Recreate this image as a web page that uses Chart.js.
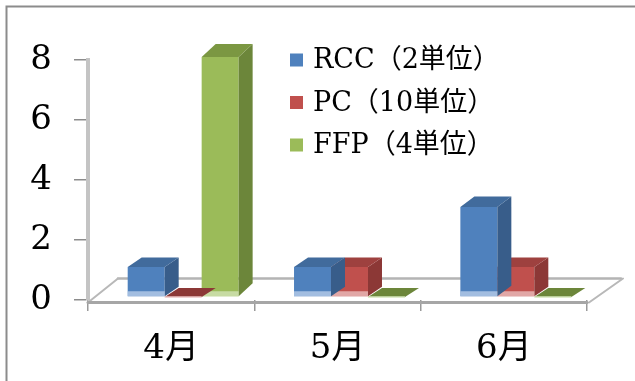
<!DOCTYPE html>
<html>
<head>
<meta charset="utf-8">
<script src="https://cdn.jsdelivr.net/npm/chart.js@4/dist/chart.umd.min.js"></script>
<style>
  html, body { margin: 0; padding: 0; background: #ffffff; }
  #wrap { width: 635px; height: 381px; position: relative; }
</style>
</head>
<body>
<div id="wrap"><canvas id="chart" width="635" height="381"></canvas></div>
<script>
// Monthly units issued per blood product
const months = ['4月', '5月', '6月'];
const seriesNames = ['RCC（2単位）', 'PC（10単位）', 'FFP（4単位）'];
const rccValues = [1, 1, 3];
const pcValues = [0, 1, 1];
const ffpValues = [8, 0, 0];
const yTickValues = [0, 2, 4, 6, 8];

const FONT = '"DejaVu Serif", "Noto Sans CJK JP", serif';

// face colours: front, side, top
const palette = [
  { front: '#4F81BD', side: '#385D8A', top: '#416B9C', glow: 'rgba(190,210,236,0.75)' },
  { front: '#C0504D', side: '#8C3836', top: '#9E413F', glow: 'rgba(236,196,196,0.75)' },
  { front: '#9BBB59', side: '#6C863A', top: '#7B9742', glow: 'rgba(214,230,188,0.75)' }
];

const BAR_DX = 14;         // horizontal depth of each column
const FLOOR_DX = 30;       // depth of the floor
const FLOOR_DY = -24;
const SHIFT_X = 12, SHIFT_Y = -3;

function barDepthY(h) { return -9 - 0.017 * h; }

// frame around the chart
const framePlugin = {
  id: 'frame',
  beforeDraw(chart) {
    const ctx = chart.ctx;
    ctx.save();
    ctx.strokeStyle = '#8c8c8c';
    ctx.lineWidth = 2;
    ctx.beginPath();
    ctx.moveTo(6.5, chart.height);
    ctx.lineTo(6.5, 6.5);
    ctx.lineTo(chart.width, 6.5);
    ctx.stroke();
    ctx.restore();
  }
};

// floor plane with its front edge acting as the category axis line
const floorPlugin = {
  id: 'floor',
  beforeDatasetsDraw(chart) {
    const { ctx, chartArea: a } = chart;
    const fy = a.bottom + 2.5;
    ctx.save();
    ctx.lineCap = 'round';
    // back edge
    ctx.strokeStyle = '#b4b4b4';
    ctx.lineWidth = 2.5;
    ctx.beginPath();
    ctx.moveTo(a.left + FLOOR_DX, fy + FLOOR_DY);
    ctx.lineTo(a.right + FLOOR_DX + 4, fy + FLOOR_DY);
    ctx.stroke();
    // side edges
    ctx.strokeStyle = '#b8b8b8';
    ctx.lineWidth = 2;
    ctx.beginPath();
    ctx.moveTo(a.left, fy);
    ctx.lineTo(a.left + FLOOR_DX, fy + FLOOR_DY);
    ctx.moveTo(a.right + 2, fy);
    ctx.lineTo(a.right + FLOOR_DX + 6, fy + FLOOR_DY);
    ctx.stroke();
    // front edge
    ctx.strokeStyle = '#a6a6a6';
    ctx.lineWidth = 3;
    ctx.beginPath();
    ctx.moveTo(a.left, fy);
    ctx.lineTo(a.right, fy);
    ctx.stroke();
    ctx.restore();

    // columns stand slightly inside the floor
    ctx.save();
    ctx.translate(SHIFT_X, SHIFT_Y);
  },
  afterDatasetDraw(chart, args) {
    const ctx = chart.ctx;
    const meta = args.meta;
    const col = palette[args.index];
    meta.data.forEach((bar) => {
      const p = bar.getProps(['x', 'y', 'base', 'width'], true);
      const l = p.x - p.width / 2, r = p.x + p.width / 2;
      const top = Math.min(p.y, p.base), bottom = p.base;
      const h = bottom - top;
      const dy = barDepthY(h);
      // side face
      ctx.fillStyle = col.side;
      ctx.beginPath();
      ctx.moveTo(r, top);
      ctx.lineTo(r + BAR_DX, top + dy);
      ctx.lineTo(r + BAR_DX, bottom + dy);
      ctx.lineTo(r, bottom);
      ctx.closePath();
      ctx.fill();
      // top face
      ctx.fillStyle = h > 0 ? col.top : col.side;
      ctx.beginPath();
      ctx.moveTo(l, top);
      ctx.lineTo(l + BAR_DX, top + dy);
      ctx.lineTo(r + BAR_DX, top + dy);
      ctx.lineTo(r, top);
      ctx.closePath();
      ctx.fill();
      // soft reflection along the foot of the column
      const g = Math.min(5, h);
      ctx.fillStyle = col.glow;
      if (g > 0) {
        ctx.fillRect(l, bottom - g, r - l, g);
      } else {
        ctx.fillRect(l, bottom - 1, r - l, 2);
      }
    });
  },
  afterDatasetsDraw(chart) {
    chart.ctx.restore();
  }
};

// series key placed inside the plot, upper right
const keyPlugin = {
  id: 'key',
  afterDraw(chart) {
    const ctx = chart.ctx;
    const x0 = 290, y0 = 60, step = 42.5, box = 13;
    ctx.save();
    ctx.font = '27px ' + FONT;
    ctx.textBaseline = 'middle';
    ctx.textAlign = 'left';
    chart.data.datasets.forEach((ds, i) => {
      const cy = y0 + i * step;
      ctx.fillStyle = ds.backgroundColor;
      ctx.fillRect(x0, cy - box / 2, box, box);
      ctx.fillStyle = '#000000';
      ctx.fillText(ds.label, x0 + 23, cy + 1);
    });
    ctx.restore();
  }
};

const allValues = [rccValues, pcValues, ffpValues];

new Chart(document.getElementById('chart'), {
  type: 'bar',
  data: {
    labels: months,
    datasets: allValues.map((vals, i) => ({
      label: seriesNames[i],
      data: vals,
      backgroundColor: palette[i].front,
      borderWidth: 0,
      clip: false,
      categoryPercentage: 0.667,
      barPercentage: 1.0
    }))
  },
  options: {
    responsive: false,
    animation: false,
    events: [],
    layout: { padding: { left: 0, right: 48, top: 60, bottom: 0 } },
    plugins: {
      legend: { display: false },
      tooltip: { enabled: false },
      title: { display: false }
    },
    scales: {
      x: {
        afterFit(scale) { scale.height = 81; },
        border: { display: false },
        grid: {
          drawOnChartArea: false,
          drawTicks: true,
          tickLength: 11,
          color: '#9a9a9a',
          lineWidth: 1.5,
          offset: true
        },
        ticks: {
          color: '#000000',
          padding: 18,
          font: { family: FONT, size: 34 }
        }
      },
      y: {
        min: 0,
        max: 8,
        afterFit(scale) { scale.width = 88; },
        afterBuildTicks(scale) { scale.ticks = yTickValues.map(v => ({ value: v })); },
        border: { display: true, color: '#c4c4c4', width: 4 },
        grid: {
          drawOnChartArea: false,
          drawTicks: true,
          tickLength: 14,
          color: '#8c8c8c',
          lineWidth: 1.5
        },
        ticks: {
          color: '#000000',
          padding: 22,
          font: { family: FONT, size: 34 }
        }
      }
    }
  },
  plugins: [framePlugin, floorPlugin, keyPlugin]
});
</script>
</body>
</html>
